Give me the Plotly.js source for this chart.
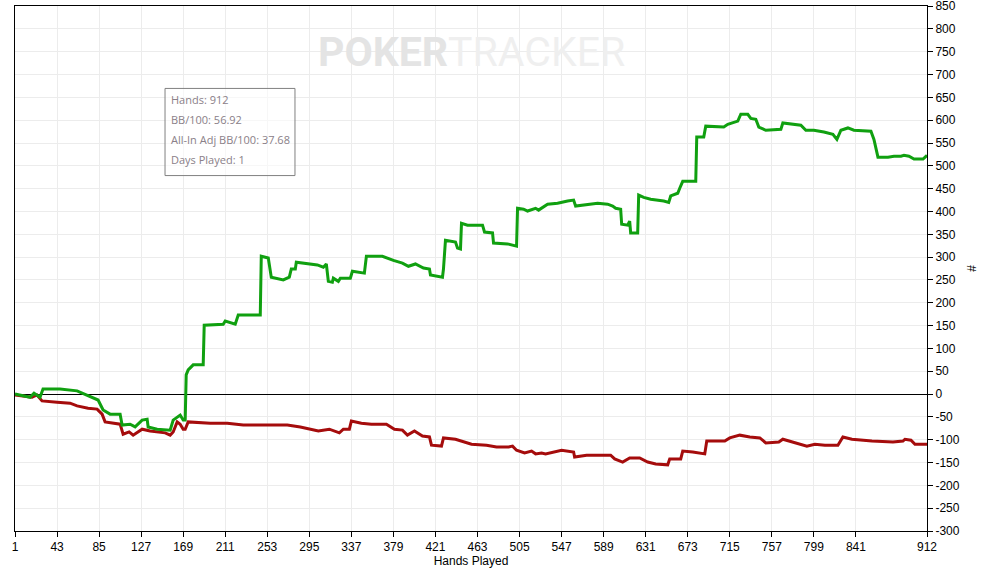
<!DOCTYPE html>
<html>
<head>
<meta charset="utf-8">
<script src="https://cdn.plot.ly/plotly-3.0.1.min.js"></script>
<style>
html,body{margin:0;padding:0;background:#fff;}
#chart{width:999px;height:568px;}
</style>
</head>
<body>
<div id="chart"></div>
<script>
// ---- data ----
const tickHands = [1,43,85,127,169,211,253,295,337,379,421,463,505,547,589,631,673,715,757,799,841,912];
const tickValues = [-300,-250,-200,-150,-100,-50,0,50,100,150,200,250,300,350,400,450,500,550,600,650,700,750,800,850];

const greenHands = [1,16,20,26,29,46,63,73,84,89,96,106,108,116,121,128,133,134,143,156,159,166,169,171,172,174,179,189,190,209,211,221,224,246,247,254,257,269,275,277,281,282,293,303,309,312,314,318,319,324,326,336,338,348,350,352,368,379,388,394,401,409,415,416,428,429,431,441,443,446,447,453,468,470,478,479,493,502,503,509,513,521,524,533,543,553,559,561,573,583,593,598,601,606,607,613,615,616,623,624,629,636,649,654,656,663,665,668,681,682,689,691,709,713,723,726,733,736,741,744,751,766,768,779,786,791,799,809,818,822,826,833,839,856,859,863,873,879,886,889,894,899,908,911,912];
const greenValues = [0,-7,2,-7,11,11,7,-2,-13,-35,-44,-44,-68,-66,-72,-57,-55,-72,-77,-79,-57,-46,-57,-57,42,53,64,64,151,153,160,153,173,173,302,298,256,250,256,274,274,289,285,283,278,285,247,245,254,247,254,254,269,267,265,302,302,293,287,280,285,276,274,261,256,274,337,333,320,318,374,370,370,355,353,331,329,324,407,405,401,407,403,416,418,423,425,412,416,418,416,412,407,405,372,370,379,353,353,436,431,427,423,420,434,440,451,466,466,563,563,587,585,591,598,613,613,604,602,585,578,580,594,591,589,578,578,574,569,558,578,583,578,576,558,519,519,521,521,523,521,515,515,521,519];

const redHands = [1,18,23,28,43,56,63,74,83,88,91,106,109,115,119,128,136,143,151,156,159,163,166,169,171,174,196,213,229,256,273,286,298,304,315,325,329,335,337,347,357,372,380,388,393,400,408,415,417,427,429,441,457,466,472,482,494,498,502,510,517,521,527,531,547,559,560,572,584,596,600,608,615,625,633,641,653,655,666,668,678,690,692,710,715,725,735,745,751,764,768,780,792,800,810,823,828,837,857,878,888,890,896,900,912];
const redValues = [-2,-7,-2,-15,-18,-20,-26,-31,-33,-44,-61,-66,-88,-83,-90,-77,-81,-83,-85,-90,-83,-61,-66,-77,-77,-61,-64,-64,-68,-68,-68,-72,-77,-81,-77,-85,-77,-77,-59,-64,-66,-66,-77,-79,-90,-81,-92,-94,-112,-114,-96,-99,-110,-112,-112,-116,-116,-114,-123,-129,-125,-131,-129,-131,-123,-127,-138,-134,-134,-134,-142,-149,-140,-140,-149,-153,-155,-142,-142,-125,-127,-131,-103,-103,-96,-90,-94,-96,-107,-105,-99,-107,-114,-110,-112,-112,-94,-99,-103,-105,-103,-99,-101,-110,-110];

const statLabels = ["Hands", "BB/100", "All-In Adj BB/100", "Days Played"];
const statValues = ["912", "56.92", "37.68", "1"];

const xTitle = "Hands Played";
const yTitle = "#";

// ---- traces ----
const traces = [
  {x: redHands, y: redValues, type: 'scatter', mode: 'lines',
   line: {color: '#a50c0c', width: 3}, hoverinfo: 'skip'},
  {x: greenHands, y: greenValues, type: 'scatter', mode: 'lines',
   line: {color: '#10a010', width: 3}, hoverinfo: 'skip'}
];

// stats box annotations
const annotations = [];
const lineY = [0.822, 0.784, 0.746, 0.708];
statLabels.forEach((lab, i) => {
  annotations.push({
    xref: 'paper', yref: 'paper', x: 0.169, y: lineY[i],
    xanchor: 'left', yanchor: 'middle', showarrow: false,
    text: lab + ': ' + statValues[i],
    font: {family: 'Open Sans, Noto Sans, sans-serif', size: 11, color: '#8a8088'}
  });
});
// watermark
annotations.push({
  xref: 'paper', yref: 'paper', x: 0.501, y: 0.912,
  xanchor: 'center', yanchor: 'middle', showarrow: false,
  text: '<b><span style="color:#e4e4e4">POKER</span></b><span style="font-weight:normal;color:#efefef">TRACKER</span>',
  font: {family: 'Roboto, Liberation Sans, sans-serif', size: 41, color: '#ebebeb'}
});

const layout = {
  width: 999, height: 568,
  margin: {l: 15, r: 72, t: 6, b: 37, pad: 0},
  paper_bgcolor: '#ffffff', plot_bgcolor: '#ffffff',
  showlegend: false, hovermode: false,
  xaxis: {
    range: [1, 912], tickmode: 'array', tickvals: tickHands,
    ticktext: tickHands.map(String),
    showgrid: true, gridcolor: '#ececec', gridwidth: 1,
    zeroline: false, showline: true, linecolor: '#000', linewidth: 1, mirror: true,
    ticks: 'outside', ticklen: 5, tickcolor: '#000',
    tickfont: {family: 'Liberation Sans Narrow, Arial Narrow, sans-serif', size: 12, color: '#000'},
    title: {text: xTitle, standoff: 6,
      font: {family: 'Liberation Sans Narrow, Arial Narrow, sans-serif', size: 12, color: '#000'}}
  },
  yaxis: {
    range: [-300, 850.2], tickmode: 'array', tickvals: tickValues,
    ticktext: tickValues.map(String), side: 'right',
    ticklabeloverflow: 'allow', automargin: false,
    showgrid: true, gridcolor: '#ececec', gridwidth: 1,
    zeroline: true, zerolinecolor: '#000', zerolinewidth: 1,
    showline: true, linecolor: '#000', linewidth: 1, mirror: true,
    ticks: 'outside', ticklen: 5, tickcolor: '#000',
    tickfont: {family: 'Liberation Sans, Arial, sans-serif', size: 12, color: '#000'},
    title: {text: yTitle, standoff: 8,
      font: {family: 'Liberation Sans, Arial, sans-serif', size: 12, color: '#000'}}
  },
  shapes: [{
    type: 'rect', xref: 'paper', yref: 'paper',
    x0: 0.1645, x1: 0.307, y0: 0.677, y1: 0.843,
    line: {color: '#808080', width: 1}, fillcolor: 'rgba(255,255,255,0.6)'
  }],
  annotations: annotations
};

Plotly.newPlot('chart', traces, layout, {displayModeBar: false, staticPlot: true});
</script>
</body>
</html>
